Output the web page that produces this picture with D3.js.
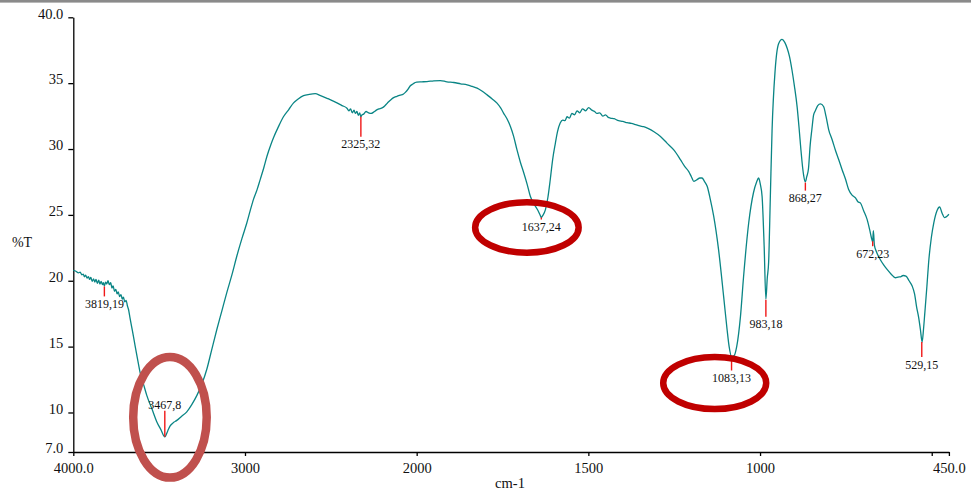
<!DOCTYPE html>
<html>
<head>
<meta charset="utf-8">
<script src="https://cdn.jsdelivr.net/npm/d3@7"></script>
<style>
  body { margin: 0; background: #fff; }
  svg { display: block; }
</style>
</head>
<body>
<svg id="chart"></svg>
<script>
// spectrum (wavenumber cm-1, %T)
var wavenumbers = [
  4000, 3985, 3970, 3960, 3950, 3942, 3935, 3928, 3920, 3912, 3905, 3898, 3890, 3882, 3875, 3868,
  3860, 3852, 3845, 3838, 3830, 3825, 3819, 3812, 3805, 3798, 3790, 3782, 3775, 3768, 3760, 3752,
  3745, 3738, 3730, 3722, 3715, 3708, 3700, 3692, 3685, 3678, 3670, 3660, 3650, 3640, 3625, 3611,
  3590, 3572, 3540, 3514, 3490, 3467, 3450, 3436, 3415, 3397, 3370, 3339, 3310, 3280, 3250, 3222,
  3195, 3164, 3135, 3106, 3075, 3047, 3018, 2989, 2970, 2950, 2930, 2911, 2890, 2872, 2850, 2834,
  2805, 2776, 2745, 2717, 2690, 2659, 2625, 2591, 2560, 2522, 2495, 2464, 2435, 2406, 2395, 2385,
  2375, 2365, 2357, 2348, 2340, 2332, 2325, 2318, 2309, 2295, 2280, 2265, 2251, 2235, 2220, 2205,
  2192, 2170, 2150, 2134, 2115, 2095, 2080, 2066, 2050, 2037, 2020, 2008, 2000, 1985, 1970, 1950,
  1931, 1912, 1892, 1872, 1853, 1838, 1824, 1810, 1795, 1780, 1766, 1755, 1747, 1737, 1727, 1718,
  1708, 1698, 1688, 1678, 1669, 1660, 1654, 1646, 1640, 1637, 1633, 1625, 1618, 1611, 1604, 1596,
  1590, 1582, 1575, 1568, 1562, 1555, 1548, 1540, 1533, 1525, 1517, 1508, 1499, 1490, 1482, 1475,
  1467, 1458, 1450, 1442, 1436, 1425, 1412, 1400, 1387, 1375, 1362, 1350, 1339, 1325, 1310, 1290,
  1271, 1250, 1232, 1220, 1208, 1200, 1193, 1185, 1175, 1169, 1162, 1154, 1145, 1135, 1121, 1106,
  1096, 1090, 1083, 1076, 1068, 1057, 1048, 1033, 1019, 1010, 1004, 999, 994, 988, 983, 979,
  975, 970, 965, 956, 946, 936, 928, 921, 914, 907, 900, 892, 886, 881, 876, 873,
  868, 864, 859, 854, 849, 844, 839, 832, 824, 815, 808, 800, 790, 781, 771, 761,
  751, 742, 732, 722, 715, 708, 698, 688, 681, 676, 672, 670, 667, 661, 650, 640,
  630, 618, 606, 598, 591, 583, 575, 566, 557, 550, 544, 538, 533, 528, 524, 520,
  514, 509, 501, 494, 485, 477, 470, 463, 458, 450
];
var transmittance = [
  20.78, 20.72, 20.6, 20.65, 20.45, 20.5, 20.3, 20.42, 20.2, 20.32, 20.1, 20.25, 19.95, 20.15, 19.9, 20.1,
  19.8, 20.05, 19.75, 19.95, 19.7, 19.85, 19.6, 19.9, 19.75, 20.0, 19.7, 19.85, 19.45, 19.6, 19.2, 19.35,
  19.0, 19.15, 18.8, 18.95, 18.6, 18.75, 18.4, 18.5, 18.1, 17.8, 17.2, 16.5, 15.8, 15.05, 14.0, 13.05,
  12.1, 11.3, 10.2, 9.3, 8.7, 8.15, 8.6, 8.98, 9.25, 9.4, 9.7, 10.05, 10.6, 11.3, 12.2, 13.3,
  14.7, 16.3, 17.7, 19.1, 20.5, 21.9, 23.2, 24.4, 25.3, 26.2, 26.9, 27.7, 28.6, 29.45, 30.3, 30.85,
  31.7, 32.45, 33.0, 33.5, 33.8, 34.05, 34.15, 34.2, 34.05, 33.85, 33.7, 33.5, 33.3, 33.1, 32.9, 33.05,
  32.75, 32.95, 32.7, 32.85, 32.55, 32.75, 32.45, 32.6, 32.65, 32.85, 32.75, 32.7, 32.8, 32.95, 33.05, 33.1,
  33.2, 33.5, 33.75, 33.9, 34.0, 34.1, 34.15, 34.3, 34.55, 34.8, 34.95, 35.05, 35.08, 35.1, 35.12, 35.18,
  35.2, 35.1, 35.05, 34.95, 34.87, 34.75, 34.62, 34.4, 34.11, 33.8, 33.48, 33.1, 32.73, 32.3, 31.71, 31.0,
  29.95, 29.0, 28.18, 27.3, 26.41, 25.9, 25.65, 25.3, 24.95, 24.8, 24.95, 25.4, 26.3, 27.67, 29.2, 30.45,
  31.3, 31.97, 32.2, 32.15, 32.45, 32.35, 32.7, 32.6, 32.9, 32.75, 33.05, 32.9, 33.15, 32.95, 32.85, 32.7,
  32.75, 32.5, 32.6, 32.4, 32.35, 32.3, 32.15, 32.1, 32.0, 31.95, 31.85, 31.75, 31.7, 31.55, 31.33, 30.95,
  30.45, 29.9, 29.2, 28.7, 28.3, 27.9, 27.55, 27.65, 27.8, 27.8, 27.55, 27.17, 26.2, 24.9, 22.4, 18.8,
  16.3, 15.0, 14.25, 14.3, 15.0, 17.3, 20.3, 24.4, 26.7, 27.5, 27.8, 27.3, 26.4, 22.6, 18.6, 20.2,
  21.4, 26.4, 31.4, 36.0, 38.0, 38.33, 38.1, 37.65, 37.0, 36.0, 34.8, 33.2, 31.5, 29.95, 28.6, 28.0,
  27.5, 27.9, 28.5, 30.3, 31.5, 32.6, 32.9, 33.3, 33.43, 33.23, 32.5, 31.46, 30.7, 29.95, 29.2, 28.43,
  27.7, 26.92, 26.5, 26.29, 26.0, 25.91, 25.3, 24.64, 23.9, 23.3, 22.95, 23.8, 22.7, 22.2, 21.61, 21.2,
  20.86, 20.5, 20.23, 20.28, 20.3, 20.4, 20.35, 20.0, 19.6, 19.0, 18.0, 17.2, 16.3, 15.35, 16.3, 17.6,
  19.6, 21.4, 23.3, 24.4, 25.3, 25.6, 25.15, 24.8, 24.85, 25.05
];

// peak annotations
var peakWn = [3819, 3467, 2325, 1637, 1083, 983, 868, 672, 529];
var peakT = [19.57, 8.15, 32.45, 24.8, 14.25, 18.55, 27.45, 23.0, 15.35];
var peakLabels = ["3819,19", "3467,8", "2325,32", "1637,24", "1083,13", "983,18", "868,27", "672,23", "529,15"];

// hand-drawn ellipses (centre in cm-1 / %T)
var markWn = [3437, 1679, 1132];
var markT = [9.63, 24.05, 12.23];

var yTicks = [7, 10, 15, 20, 25, 30, 35, 40];
var xTicks = [4000, 3000, 2000, 1500, 1000, 500, 450];

var width = 971, height = 497;
var plotLeft = 73.3, plotRight = 948.9, plotTop = 17.3, plotBottom = 452;
var font = "'Liberation Serif', 'Times New Roman', serif";

var svg = d3.select("#chart").attr("width", width).attr("height", height);

svg.append("rect")
  .attr("x", 0).attr("y", 0)
  .attr("width", width).attr("height", 2.6)
  .attr("fill", "#8a8a8a");

// x axis is compressed 2x between 4000 and 2000
var plotW = plotRight - plotLeft;
var x = d3.scaleLinear()
  .domain([4000, 2000, 450])
  .range([plotLeft, plotLeft + plotW * 2000 / 5100, plotRight]);
var y = d3.scaleLinear().domain([7, 40]).range([plotBottom, plotTop]);

var xAxis = svg.append("g")
  .attr("transform", "translate(0," + plotBottom + ")")
  .call(d3.axisBottom(x)
    .tickValues(xTicks)
    .tickSizeInner(4)
    .tickSizeOuter(0)
    .tickPadding(7)
    .tickFormat(function (d) {
      if (d == 500) return "";
      if (d == 4000 || d == 450) return d.toFixed(1);
      return d;
    }));

var yAxis = svg.append("g")
  .attr("transform", "translate(" + plotLeft + ",0)")
  .call(d3.axisLeft(y)
    .tickValues(yTicks)
    .tickSizeInner(5)
    .tickSizeOuter(0)
    .tickPadding(5)
    .tickFormat(function (d) {
      return (d == 7 || d == 40) ? d.toFixed(1) : d;
    }));
yAxis.selectAll("text").attr("dy", "0.05em");

[xAxis, yAxis].forEach(function (a) {
  a.selectAll("path, line").attr("stroke", "#000").attr("stroke-width", 1.3);
  a.selectAll("text")
    .attr("fill", "#111")
    .style("font-family", font)
    .style("font-size", "14.5px");
});

svg.append("text")
  .attr("x", 22).attr("y", 247)
  .attr("text-anchor", "middle")
  .style("font-family", font).style("font-size", "14px")
  .attr("fill", "#111")
  .text("%T");

svg.append("text")
  .attr("x", 510).attr("y", 488)
  .attr("text-anchor", "middle")
  .style("font-family", font).style("font-size", "14.5px")
  .attr("fill", "#111")
  .text("cm-1");

// spectrum line
var points = wavenumbers.map(function (w, i) { return [w, transmittance[i]]; });
var line = d3.line()
  .x(function (d) { return x(d[0]); })
  .y(function (d) { return y(d[1]); })
  .curve(d3.curveMonotoneX);

svg.append("path")
  .datum(points)
  .attr("d", line)
  .attr("fill", "none")
  .attr("stroke", "#0a8585")
  .attr("stroke-width", 1.3);

// peak ticks + labels
var tickLen = [10, -26, 20, 2, 14, 17, 8, 5, 15];
var peaks = svg.append("g");
peakWn.forEach(function (w, i) {
  var px = x(w), py = y(peakT[i]), len = tickLen[i];
  peaks.append("line")
    .attr("x1", px).attr("x2", px)
    .attr("y1", py).attr("y2", py + len)
    .attr("stroke", "#f01818")
    .attr("stroke-width", 1.4);
  peaks.append("text")
    .attr("x", px)
    .attr("y", len < 0 ? py + len - 1.5 : py + len + 11.5)
    .attr("text-anchor", "middle")
    .style("font-family", font).style("font-size", "12px")
    .attr("fill", "#111")
    .text(peakLabels[i]);
});

// ellipses drawn over everything
var markRx = [36.75, 51.75, 51.5];
var markRy = [60.25, 25.25, 26];
var markColor = ["#c0504d", "#c00000", "#c00000"];
var markStroke = [8.5, 6.5, 6.5];
markWn.forEach(function (w, i) {
  svg.append("ellipse")
    .attr("cx", x(w))
    .attr("cy", y(markT[i]))
    .attr("rx", markRx[i])
    .attr("ry", markRy[i])
    .attr("fill", "none")
    .attr("stroke", markColor[i])
    .attr("stroke-width", markStroke[i]);
});
</script>
</body>
</html>
